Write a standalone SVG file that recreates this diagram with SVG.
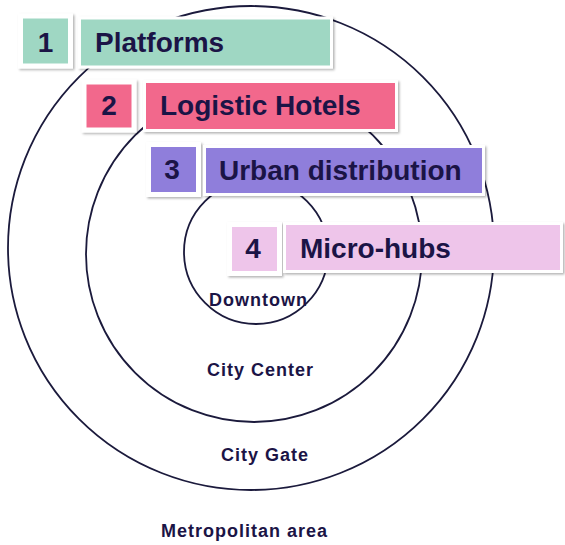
<svg xmlns="http://www.w3.org/2000/svg" width="565" height="545" viewBox="0 0 565 545">
  <defs>
    <filter id="sh" x="-10%" y="-10%" width="125%" height="130%">
      <feDropShadow dx="1.5" dy="1.5" stdDeviation="1" flood-color="#000" flood-opacity="0.3"/>
    </filter>
    <style>
      .ring { fill: none; stroke: #1b1a3c; stroke-width: 1.8; }
      .num { stroke: #ffffff; stroke-width: 5; filter: url(#sh); }
      .lab { stroke: #ffffff; stroke-width: 3; filter: url(#sh); }
      .t { font-family: "Liberation Sans", Arial, sans-serif; font-weight: bold; fill: #1b1446; }
      .big { font-size: 28px; }
      .zone { font-size: 18px; letter-spacing: 1px; }
      .c1 { fill: #9fd7c3; }
      .c2 { fill: #f2688c; }
      .c3 { fill: #8f7edb; }
      .c4 { fill: #eec5ea; }
    </style>
  </defs>
  <rect width="565" height="545" fill="#ffffff"/>

  <g id="ring-metropolitan">
    <ellipse class="ring" cx="251" cy="248" rx="243" ry="242"/>
    <text class="t zone" x="161" y="537">Metropolitan area</text>
  </g>
  <g id="ring-citygate">
    <circle class="ring" cx="254" cy="254" r="168"/>
    <text class="t zone" x="221" y="461">City Gate</text>
  </g>
  <g id="ring-citycenter">
    <text class="t zone" x="207" y="376">City Center</text>
  </g>
  <g id="ring-downtown">
    <circle class="ring" cx="256" cy="252" r="72"/>
    <text class="t zone" x="209" y="306">Downtown</text>
  </g>

  <g id="node-1">
    <rect class="num c1" x="20.5" y="16" width="50" height="50"/>
    <text class="t big" x="45.5" y="52" text-anchor="middle">1</text>
    <rect class="lab c1" x="79.5" y="18" width="252" height="49"/>
    <text class="t big" x="95" y="52">Platforms</text>
  </g>
  <g id="node-2">
    <rect class="num c2" x="84" y="82" width="50" height="48"/>
    <text class="t big" x="109" y="115" text-anchor="middle">2</text>
    <rect class="lab c2" x="144.5" y="81.5" width="252" height="49"/>
    <text class="t big" x="160" y="115">Logistic Hotels</text>
  </g>
  <g id="node-3">
    <rect class="num c3" x="148.5" y="144.5" width="50" height="50"/>
    <text class="t big" x="172" y="179" text-anchor="middle">3</text>
    <rect class="lab c3" x="204.5" y="146.5" width="279" height="48"/>
    <text class="t big" x="219" y="180">Urban distribution</text>
  </g>
  <g id="node-4">
    <rect class="num c4" x="229.5" y="224.5" width="50" height="49"/>
    <text class="t big" x="253" y="258" text-anchor="middle">4</text>
    <rect class="lab c4" x="284.5" y="223.5" width="277" height="48"/>
    <text class="t big" x="300" y="258">Micro-hubs</text>
  </g>
</svg>
